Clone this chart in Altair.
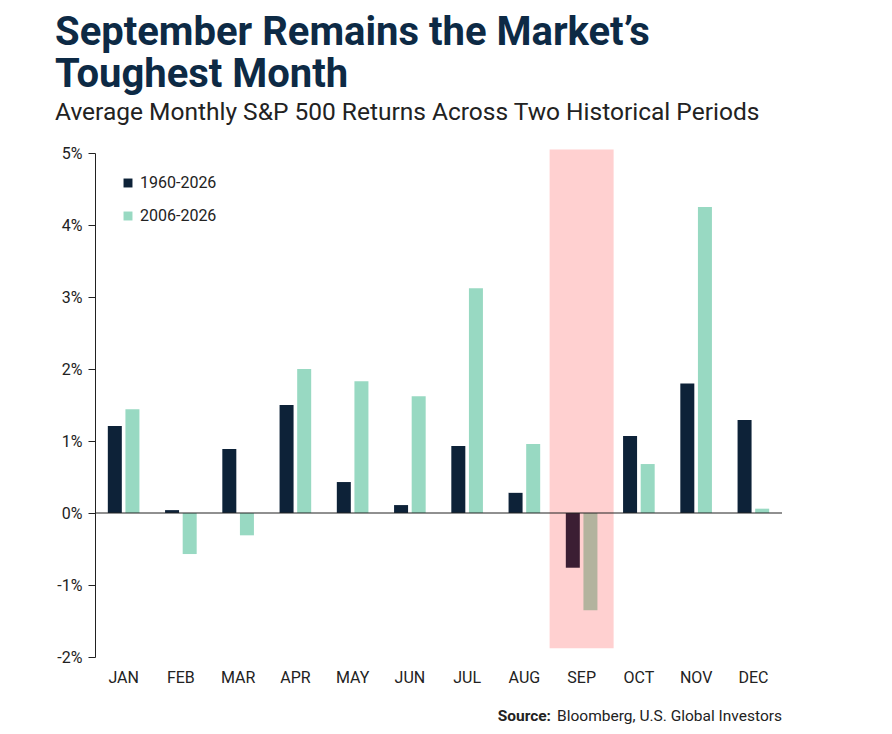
import altair as alt
import pandas as pd

months = ["JAN","FEB","MAR","APR","MAY","JUN","JUL","AUG","SEP","OCT","NOV","DEC"]
long_period = [1.21,0.04,0.89,1.50,0.43,0.11,0.93,0.28,-0.76,1.07,1.80,1.29]
recent_period = [1.44,-0.57,-0.31,2.00,1.83,1.62,3.12,0.96,-1.35,0.68,4.25,0.06]
series = ["1960-2026","2006-2026"]

rows = []
for m, a, b in zip(months, long_period, recent_period):
    rows.append({"month": m, "series": series[0], "value": a,
                 "col": "#3b1e33" if m == "SEP" else "#0d2238"})
    rows.append({"month": m, "series": series[1], "value": b,
                 "col": "#b3b39e" if m == "SEP" else "#98d9c2"})
df = pd.DataFrame(rows)

W, H = 687, 504
xs = alt.X("month:N", sort=months, scale=alt.Scale(paddingInner=0.0, paddingOuter=0.0),
           axis=alt.Axis(title=None, domain=False, ticks=False, labelAngle=0, labelFontSize=16,
                         labelColor="#222", labelFont="Roboto", labelPadding=12))
yaxis = alt.Axis(title=None, values=[-2,-1,0,1,2,3,4,5], labelExpr="datum.value + '%'",
                 grid=False, domainColor="#222", tickColor="#222", tickSize=7,
                 labelFontSize=16, labelColor="#222", labelFont="Roboto", labelPadding=6)
ysc = alt.Scale(domain=[-2, 5], nice=False)

hl = alt.Chart(pd.DataFrame({"month": ["SEP"], "top": [5.05], "bot": [-1.88]})).mark_bar(
    color="#ffd0d0", size=64, clip=False).encode(
    x=xs, y=alt.Y("top:Q", scale=ysc, axis=yaxis), y2="bot:Q")

bars = alt.Chart(df).mark_bar(size=14).encode(
    x=xs, xOffset=alt.XOffset("series:N", scale=alt.Scale(paddingInner=0.45, paddingOuter=0.85)),
    y=alt.Y("value:Q", scale=ysc, axis=yaxis), color=alt.Color("col:N", scale=None))

zero = alt.Chart(pd.DataFrame({"v": [0]})).mark_rule(color="#222", strokeWidth=1.2).encode(
    y=alt.Y("v:Q", scale=ysc, axis=yaxis))

leg = pd.DataFrame({"label": series, "c": ["#0d2238", "#98d9c2"], "py": [30, 63]})
legsq = alt.Chart(leg).mark_square(size=80, opacity=1).encode(
    x=alt.value(33), y=alt.Y("py:Q", scale=None), color=alt.Color("c:N", scale=None))
legtx = alt.Chart(leg).mark_text(align="left", fontSize=16, font="Roboto", color="#222").encode(
    x=alt.value(45), y=alt.Y("py:Q", scale=None), text="label:N")

def txt(s, x, y, size, weight="normal", color="#222", align="left"):
    return alt.Chart(pd.DataFrame({"t": [s]})).mark_text(
        align=align, baseline="alphabetic", fontSize=size, fontWeight=weight, font="Roboto",
        color=color, clip=False).encode(x=alt.value(x), y=alt.value(y), text="t:N")

titles = (txt("September Remains the Market\u2019s", -40, -108, 40, "bold", "#0d2a45")
          + txt("Toughest Month", -40, -66, 40, "bold", "#0d2a45")
          + txt("Average Monthly S&P 500 Returns Across Two Historical Periods", -40, -33, 24.5)
          + txt("Bloomberg, U.S. Global Investors", 687, 568, 15.5, align="right")
          + txt("Source:", 456, 568, 15.5, "bold", align="right"))

chart = alt.layer(hl, bars, zero, legsq, legtx, titles).properties(
    width=W, height=H, autosize="none",
    padding={"left": 87, "top": 145, "right": 100, "bottom": 70}
).configure_view(stroke=None)

chart.save("out.html", embed_options={"renderer": "svg", "actions": False})
